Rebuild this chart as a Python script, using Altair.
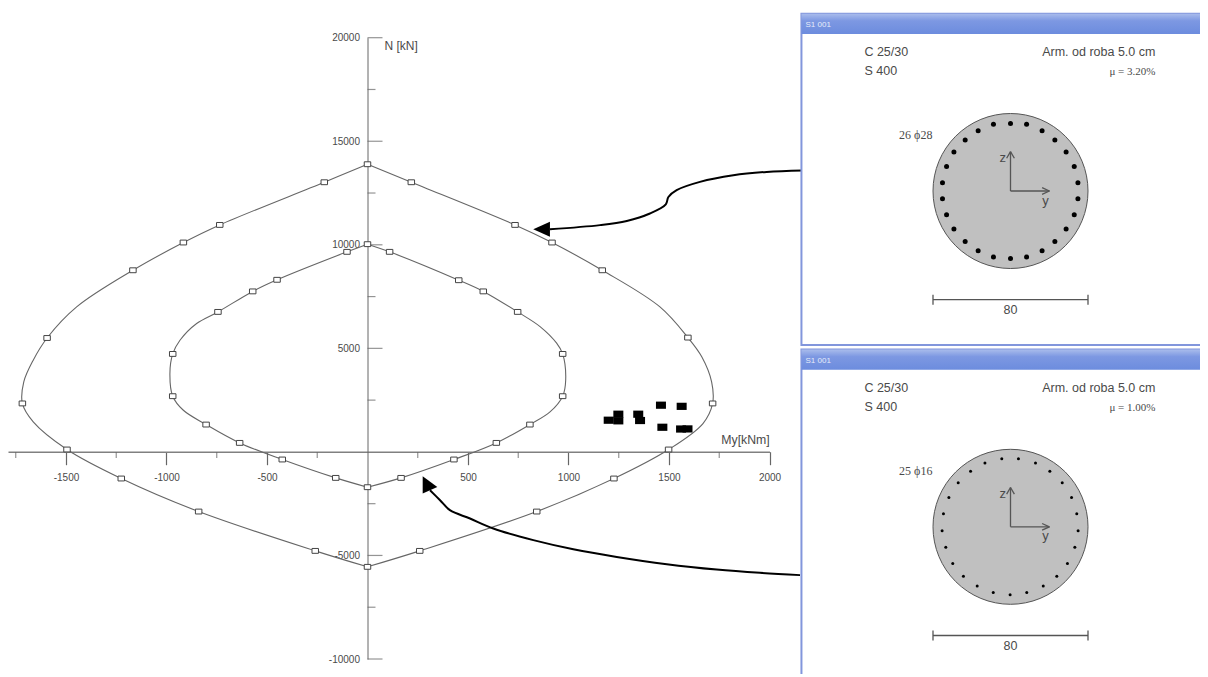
import altair as alt
import pandas as pd

# ---------- interaction diagram (My [kNm], N [kN]) ----------
outer_left_my = [0, -215, -735, -916, -1167, -1447, -1594, -1663, -1710, -1717, -1663, -1495, -1225, -840, -260, 0]
outer_left_n = [13890, 13020, 10960, 10110, 8770, 7000, 5500, 4430, 3380, 2340, 1450, 116, -1285, -2880, -4780, -5550]
outer_left_mark = [1, 1, 1, 1, 1, 0, 1, 0, 0, 1, 0, 1, 1, 1, 1, 1]
outer_right_my = [0, 218, 734, 918, 1168, 1455, 1594, 1663, 1712, 1717, 1669, 1498, 1226, 842, 260, 0]
outer_right_n = [13890, 13020, 10960, 10110, 8770, 7000, 5520, 4590, 3380, 2340, 1370, 116, -1285, -2880, -4780, -5550]
outer_right_mark = [0, 1, 1, 1, 1, 0, 1, 0, 0, 1, 0, 1, 1, 1, 1, 0]

inner_left_my = [0, -102, -450, -571, -744, -850, -933, -969, -983, -969, -916, -803, -636, -424, -158, 0]
inner_left_n = [10030, 9660, 8310, 7750, 6760, 6200, 5390, 4730, 3790, 2690, 2010, 1320, 435, -367, -1255, -1705]
inner_left_mark = [1, 1, 1, 1, 1, 0, 0, 1, 0, 1, 0, 1, 1, 1, 1, 1]
inner_right_my = [0, 110, 454, 576, 747, 860, 941, 971, 986, 971, 908, 808, 641, 430, 167, 0]
inner_right_n = [10030, 9660, 8290, 7750, 6760, 6040, 5250, 4730, 3460, 2690, 1930, 1320, 435, -367, -1255, -1705]
inner_right_mark = [0, 1, 1, 1, 1, 0, 0, 1, 0, 1, 0, 1, 1, 1, 1, 0]

load_my = [1200, 1248, 1248, 1347, 1356, 1460, 1467, 1563, 1560, 1592]
load_n = [1530, 1820, 1500, 1820, 1515, 2255, 1190, 2200, 1105, 1110]

arrow_top_my = [2165, 1986, 1820, 1654, 1538, 1497, 1484, 1405, 1290, 1157, 908]
arrow_top_n = [13590, 13520, 13360, 13040, 12640, 12310, 11950, 11510, 11150, 10950, 10750]
arrow_low_my = [2152, 1953, 1737, 1489, 1240, 1024, 825, 626, 510, 410, 361, 311]
arrow_low_n = [-5950, -5840, -5680, -5420, -5070, -4700, -4260, -3700, -3216, -2815, -2332, -1850]
head_my = [868, 301]
head_n = [10750, -1610]

x_major = [-1500, -1000, -500, 500, 1000, 1500, 2000]
x_minor = [-1750, -1250, -750, -250, 250, 750, 1250, 1750]
y_major = [-10000, -5000, 5000, 10000, 15000, 20000]
y_minor = [-7500, -2500, 2500, 7500, 12500, 17500]

# ---------- cross sections (cm) ----------
bars1_y = [0, 8.3, 16.3, 22.9, 28.7, 32.9, 34.8, 34.8, 32.9, 28.7, 22.9, 16.3, 8.3, 0, -8.8, -16.7, -23.4, -29.2, -33, -35.1, -35.1, -33, -29.2, -23.4, -16.7, -8.8]
bars1_z = [34.9, 34.4, 31.1, 26.3, 20.1, 12.6, 4.3, -4, -12.2, -19.6, -26, -30.8, -34.1, -34.8, -34.1, -30.8, -26, -19.6, -12.2, -4, 4.3, 12.6, 20.1, 26.3, 31.1, 34.4]
bars2_y = [-4.5, 4.1, 12.9, 20.3, 26.7, 31.5, 34.2, 34.9, 33.2, 29.4, 23.9, 16.9, 8.4, -0.2, -8.9, -17.2, -24.3, -29.8, -33.4, -35.3, -34.6, -31.8, -27, -20.6, -13.2]
bars2_z = [35.1, 35.1, 32.9, 28.7, 22.7, 15.1, 6.7, -2.1, -10.5, -18.9, -25.5, -30.6, -33.9, -35.1, -33.9, -30.6, -25.5, -18.9, -10.5, -2.1, 6.7, 15.1, 22.7, 28.7, 32.9]

panel_titles = ["S1 001", "S1 001"]
rebar_labels = ["26 \u03d528", "25 \u03d516"]
ratio_labels = ["\u03bc = 3.20%", "\u03bc = 1.00%"]
concrete = "C 25/30"
steel = "S 400"
cover = "Arm. od roba 5.0 cm"
dim_label = "80"

# section outline and dimension segments: y1, z1, y2, z2
seg_y1 = [-40, -40, 40, 0, -2, 2, 0, 16.3, 16.3]
seg_z1 = [-56.1, -53.5, -53.5, 0, 16.9, 16.9, 0, 1.7, -1.7]
seg_y2 = [40, -40, 40, 0, 0, 0, 20.1, 20.1, 20.1]
seg_z2 = [-56.1, -58.7, -58.7, 20.3, 20.3, 20.3, 0, 0, 0]

W, H = 1192, 666
GREY = "#666666"
TXT = "#4a4a4a"
SANS = "Liberation Sans"
SERIF = "Liberation Serif"
PLAIN_NUMBER = "toString(datum.value)"


def curve_df(name, my, n, mark):
    return pd.DataFrame({"curve": name, "i": range(len(my)), "My": my, "N": n, "marker": mark})


curves = pd.concat([
    curve_df("outer-left", outer_left_my, outer_left_n, outer_left_mark),
    curve_df("outer-right", outer_right_my, outer_right_n, outer_right_mark),
    curve_df("inner-left", inner_left_my, inner_left_n, inner_left_mark),
    curve_df("inner-right", inner_right_my, inner_right_n, inner_right_mark),
])
markers = curves[curves.marker == 1]
arrows = pd.concat([
    curve_df("top", arrow_top_my, arrow_top_n, 0),
    curve_df("low", arrow_low_my, arrow_low_n, 0),
])

sx = alt.Scale(domain=[-1788.5, 2000], range=[0, 761.5], nice=False, zero=False)
sy = alt.Scale(domain=[-10000, 20000], range=[651, 29.7], nice=False, zero=False)
X = alt.X("My:Q", scale=sx, axis=None)
Y = alt.Y("N:Q", scale=sy, axis=None)

base = (
    alt.Chart(curves)
    .mark_line(interpolate="catmull-rom", color=GREY, strokeWidth=1.1)
    .encode(
        x=alt.X("My:Q", scale=sx, axis=alt.Axis(
            values=x_major, tickSize=13, tickColor=GREY, tickWidth=1.2, grid=False,
            offset=443.7 - H, domainColor="#808080", domainWidth=1.5,
            labelFont=SANS, labelFontSize=10, labelColor=TXT, labelPadding=8,
            labelOverlap=False, labelFlush=False, labelExpr=PLAIN_NUMBER,
            title="My[kNm]", titleFont=SANS, titleFontSize=12.3, titleFontWeight="normal",
            titleColor=TXT, titleX=737, titleY=-12.7, titleAlign="center", titleBaseline="middle",
        )),
        y=alt.Y("N:Q", scale=sy, axis=alt.Axis(
            values=y_major, ticks=False, grid=False,
            offset=-359.5, domainColor=GREY, domainWidth=1,
            labelFont=SANS, labelFontSize=10, labelColor=TXT, labelPadding=8,
            labelOverlap=False, labelFlush=False, labelExpr=PLAIN_NUMBER,
            title="N [kN]", titleFont=SANS, titleFontSize=12, titleFontWeight="normal",
            titleColor=TXT, titleX=16.5, titleY=37, titleAngle=0, titleAlign="left", titleBaseline="middle",
        )),
        detail="curve:N",
        order="i:Q",
    )
)

yt_major = pd.DataFrame({"My": 0, "N": y_major})
yt_minor = pd.DataFrame({"My": 0, "N": y_minor})
xt_minor = pd.DataFrame({"My": x_minor, "N": 0})

ytick_major = alt.Chart(yt_major).mark_tick(orient="horizontal", size=15, xOffset=7.5, thickness=1.2, color=GREY).encode(x=X, y=Y)
ytick_minor = alt.Chart(yt_minor).mark_tick(orient="horizontal", size=8, xOffset=4, thickness=1.2, color=GREY).encode(x=X, y=Y)
xtick_minor = alt.Chart(xt_minor).mark_tick(orient="vertical", size=6, yOffset=3, thickness=1.2, color=GREY).encode(x=X, y=Y)

point_layer = alt.Chart(markers).mark_point(
    shape="M-1,-0.75L1,-0.75L1,0.75L-1,0.75Z", size=42, filled=True, fill="white",
    stroke="#444444", strokeWidth=1, opacity=1,
).encode(x=X, y=Y)

loads = alt.Chart(pd.DataFrame({"My": load_my, "N": load_n})).mark_point(
    shape="M-1,-0.72L1,-0.72L1,0.72L-1,0.72Z", size=100, filled=True, fill="black", stroke="black",
    strokeWidth=0, opacity=1,
).encode(x=X, y=Y)

arrow_lines = (
    alt.Chart(arrows)
    .mark_line(interpolate="catmull-rom", color="black", strokeWidth=2)
    .encode(x=X, y=Y, detail="curve:N", order="i:Q")
)
head_top = alt.Chart(pd.DataFrame({"My": head_my[:1], "N": head_n[:1]})).mark_point(
    shape="M-8.7,0L8,-7.5L8,7.5Z", size=4, filled=True, fill="black", strokeWidth=0, opacity=1,
).encode(x=X, y=Y)
head_low = alt.Chart(pd.DataFrame({"My": head_my[1:], "N": head_n[1:]})).mark_point(
    shape="M-5.3,-9L9.3,1.7L-5.3,8.3Z", size=4, filled=True, fill="black", strokeWidth=0, opacity=1,
).encode(x=X, y=Y)

main = [base, ytick_major, ytick_minor, xtick_minor, point_layer, loads, arrow_lines, head_top, head_low]

bar_gradient = alt.LinearGradient(
    gradient="linear",
    stops=[
        alt.GradientStop(offset=0, color="#a9bcec"),
        alt.GradientStop(offset=0.35, color="#7d98e2"),
        alt.GradientStop(offset=1, color="#6c8cde"),
    ],
    x1=0, x2=0, y1=0, y2=1,
)


def panel(idx, cy, bars_y, bars_z, bar_size):
    psx = alt.Scale(domain=[-40, 40], range=[925, 1080], nice=False, zero=False)
    psy = alt.Scale(domain=[-40, 40], range=[cy + 77.5, cy - 77.5], nice=False, zero=False)
    PX = alt.X("y:Q", scale=psx, axis=None)
    PY = alt.Y("z:Q", scale=psy, axis=None)
    PX2 = alt.X2("y2:Q")
    PY2 = alt.Y2("z2:Q")

    frame = alt.Chart(pd.DataFrame({"y": [-107.9], "y2": [103], "z": [91.5], "z2": [-79.5 if idx == 0 else -95]})).mark_rect(
        fill="white", stroke="#8296dc", strokeWidth=2
    ).encode(x=PX, x2=PX2, y=PY, y2=PY2)
    title_bar = alt.Chart(pd.DataFrame({"y": [-107.9], "y2": [103], "z": [91.5], "z2": [81]})).mark_rect(
        fill=bar_gradient
    ).encode(x=PX, x2=PX2, y=PY, y2=PY2)
    circle = alt.Chart(pd.DataFrame({"y": [0], "z": [0]})).mark_point(
        shape="circle", size=24025, filled=True, fill="#c0c0c0", stroke="#555555", strokeWidth=1, opacity=1
    ).encode(x=PX, y=PY)
    rebars = alt.Chart(pd.DataFrame({"y": bars_y, "z": bars_z})).mark_point(
        shape="circle", size=bar_size, filled=True, fill="black", strokeWidth=0, opacity=1
    ).encode(x=PX, y=PY)
    segs = alt.Chart(pd.DataFrame({"y": seg_y1, "z": seg_z1, "y2": seg_y2, "z2": seg_z2})).mark_rule(
        color="#555555", strokeWidth=1.3
    ).encode(x=PX, x2=PX2, y=PY, y2=PY2)

    def text(txt, y, z, align="left", font=SANS, size=12.5, color=TXT):
        return alt.Chart(pd.DataFrame({"y": [y], "z": [z], "t": [txt]})).mark_text(
            align=align, baseline="middle", font=font, fontSize=size, color=color
        ).encode(x=PX, y=PY, text="t:N")

    return [
        frame, title_bar, circle, rebars, segs,
        text(panel_titles[idx], -105.8, 85.7, size=8, color="#e6ecfa"),
        text(concrete, -75.4, 71.8),
        text(steel, -75.4, 61.9),
        text(cover, 74.8, 71.8, align="right"),
        text(ratio_labels[idx], 74.8, 61.4, align="right", font=SERIF, size=11),
        text(rebar_labels[idx], -40.3, 28.9, align="right", font=SERIF, size=12),
        text(dim_label, 0, -61.4, align="center"),
        text("z", -4, 17, align="center", size=13),
        text("y", 18, -5, align="center", size=13),
    ]


layers = main + panel(0, 183, bars1_y, bars1_z, 25) + panel(1, 518.8, bars2_y, bars2_z, 9)

chart = (
    alt.layer(*layers)
    .resolve_scale(x="independent", y="independent")
    .properties(width=W, height=H, padding=0, autosize="none", background="white")
    .configure_view(stroke=None)
)

chart.save("out.html", embed_options={"renderer": "svg", "actions": False})
